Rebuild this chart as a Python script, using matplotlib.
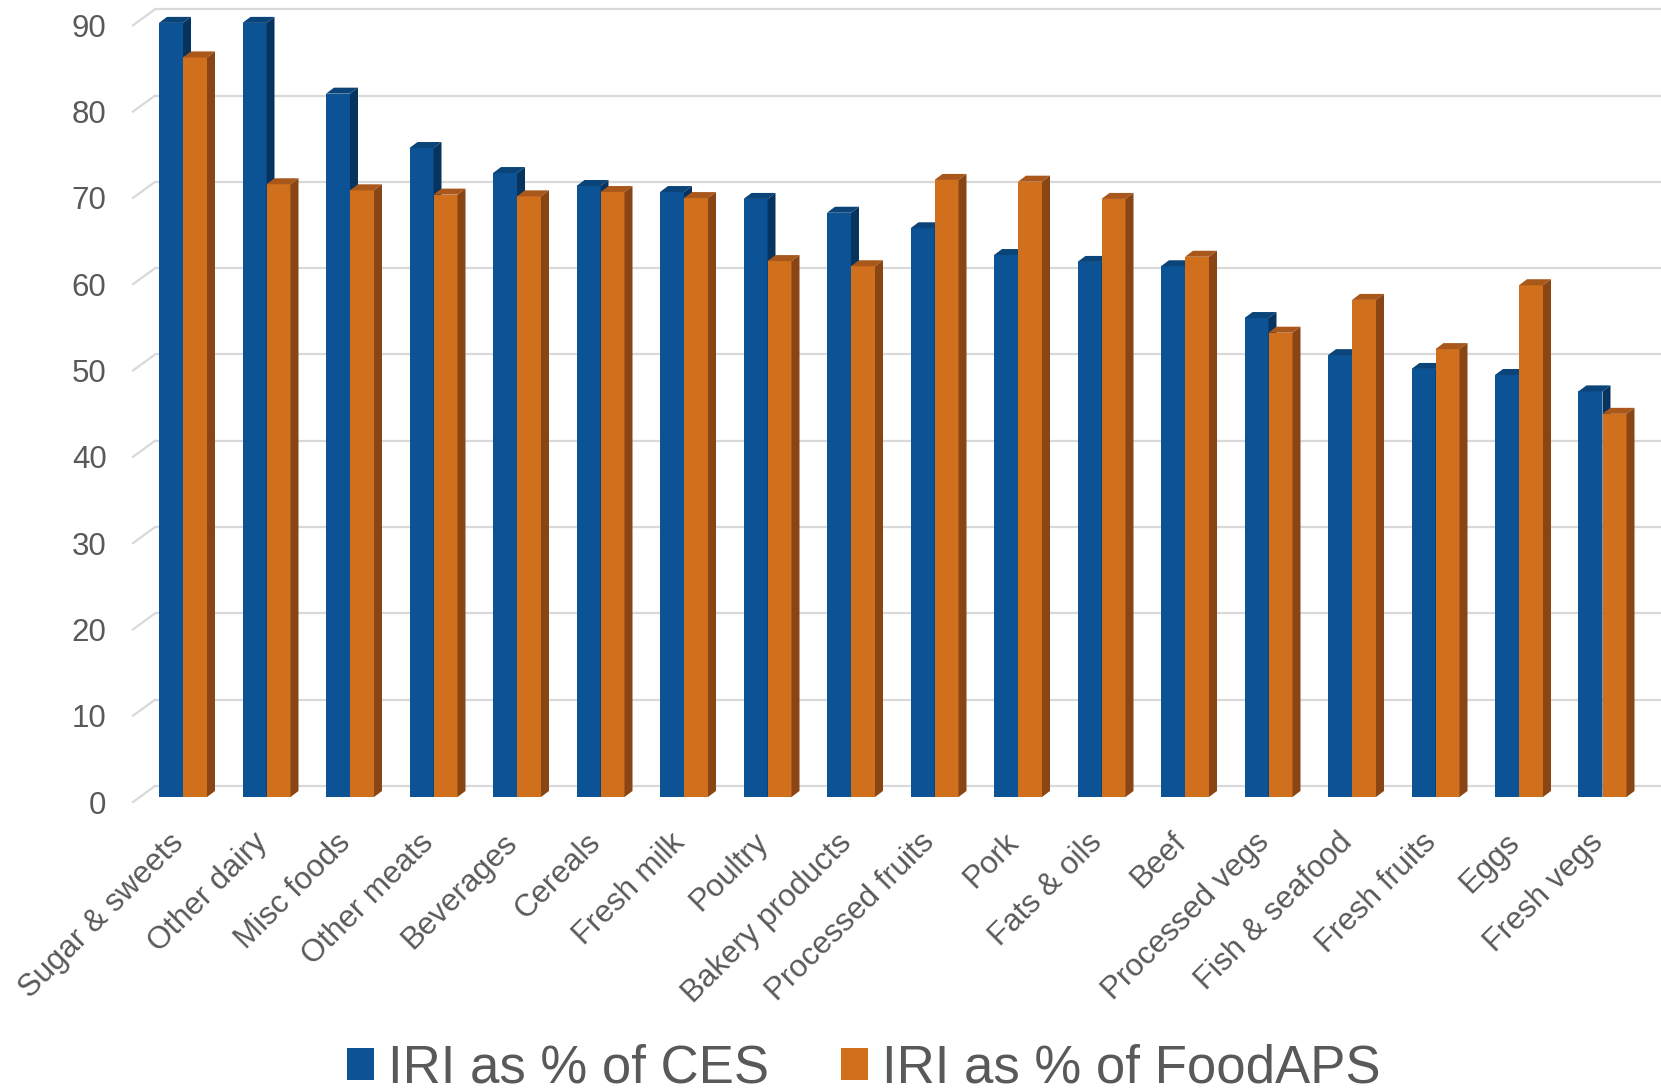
import matplotlib
matplotlib.use('Agg')
import matplotlib.pyplot as plt
from matplotlib.patches import Polygon, Patch
import numpy as np

plt.rcParams['font.family'] = ['Liberation Sans', 'DejaVu Sans']

categories = ["Sugar & sweets", "Other dairy", "Misc foods", "Other meats", "Beverages",
              "Cereals", "Fresh milk", "Poultry", "Bakery products", "Processed fruits",
              "Pork", "Fats & oils", "Beef", "Processed vegs", "Fish & seafood",
              "Fresh fruits", "Eggs", "Fresh vegs"]
ces = [89.7, 89.7, 81.5, 75.2, 72.3, 70.8, 70.1, 69.3, 67.7, 65.9,
       62.8, 62.0, 61.5, 55.5, 51.2, 49.6, 48.9, 47.0]
foodaps = [85.7, 71.0, 70.3, 69.8, 69.6, 70.1, 69.4, 62.1, 61.5, 71.5,
           71.3, 69.3, 62.6, 53.8, 57.6, 51.9, 59.3, 44.4]
series_names = ["IRI as % of CES", "IRI as % of FoodAPS"]
yticks = list(range(0, 91, 10))

# colours: front, top, side
blue = ("#0B5395", "#0A4479", "#06345F")
orange = ("#D0701C", "#A9571A", "#894614")
grid_c = "#D9D9D9"
text_c = "#595959"

W, H, DPI = 1661, 1091, 100
fig = plt.figure(figsize=(W / DPI, H / DPI), dpi=DPI)

ax_left, ax_right = 133, 1661
ax_top, ax_bottom = 25.3, 802
ax = fig.add_axes([ax_left / W, 1 - ax_bottom / H,
                   (ax_right - ax_left) / W, (ax_bottom - ax_top) / H])
n = len(categories)
x = np.arange(n)
spacing = 83.5
xl0 = (ax_left - 176) / spacing
xl1 = xl0 + (ax_right - ax_left) / spacing
ax.set_xlim(xl0, xl1)
ax.set_ylim(0, 90)
dpx = (xl1 - xl0) / (ax_right - ax_left)   # data x per pixel
dpy = 90 / (ax_bottom - ax_top)             # data y per pixel

# back wall grid + left-side diagonals
wall_dx, wall_dy = 22 * dpx, 16 * dpy
for v in yticks:
    ax.plot([xl0 + wall_dx, xl1 + wall_dx], [v + wall_dy, v + wall_dy],
            color=grid_c, lw=1.6, zorder=0, clip_on=False, solid_capstyle='butt')
    ax.plot([xl0, xl0 + wall_dx], [v, v + wall_dy], color=grid_c, lw=1.6,
            zorder=0, clip_on=False)

# bars (front faces sit slightly behind the axis front plane)
bw = 24 * dpx
off_x, base = 7 * dpx, 5 * dpy
dep_x, dep_y = 8 * dpx, 6 * dpy
z = 2
for i in range(n):
    for s, (vals, cols) in enumerate(((ces, blue), (foodaps, orange))):
        v = vals[i]
        x0 = x[i] - bw + s * bw + off_x
        x1 = x0 + bw
        ax.bar(x0, v, width=bw, bottom=base, align='edge', color=cols[0],
               edgecolor='none', zorder=z, clip_on=False)
        top = Polygon([(x0, base + v), (x1, base + v), (x1 + dep_x, base + v + dep_y),
                       (x0 + dep_x, base + v + dep_y)], closed=True,
                      facecolor=cols[1], edgecolor='none', zorder=z + 0.1, clip_on=False)
        side = Polygon([(x1, base), (x1, base + v), (x1 + dep_x, base + v + dep_y),
                        (x1 + dep_x, base + dep_y)], closed=True,
                       facecolor=cols[2], edgecolor='none', zorder=z + 0.1, clip_on=False)
        ax.add_patch(top)
        ax.add_patch(side)
        z += 1

for sp in ax.spines.values():
    sp.set_visible(False)
ax.set_facecolor('none')

ax.set_yticks(yticks)
ax.set_yticklabels([str(t) for t in yticks])
ax.tick_params(axis='y', length=0, pad=19, labelsize=22.5, labelcolor=text_c)

ax.set_xticks(x + off_x - 4 * dpx)
ax.set_xticklabels(categories, rotation=45, ha='right', va='center',
                   rotation_mode='anchor')
ax.tick_params(axis='x', length=0, pad=26, labelsize=22.5, labelcolor=text_c)

handles = [Patch(facecolor=blue[0], edgecolor='none'),
           Patch(facecolor=orange[0], edgecolor='none')]
fig.legend(handles, series_names, loc='center', bbox_to_anchor=(864 / W, 22.5 / H),
           ncol=2, frameon=False, fontsize=38, labelcolor=text_c,
           handlelength=0.5, handleheight=0.55, handletextpad=0.28,
           columnspacing=1.36, borderpad=0, borderaxespad=0)

fig.savefig('out.png', dpi=DPI)
